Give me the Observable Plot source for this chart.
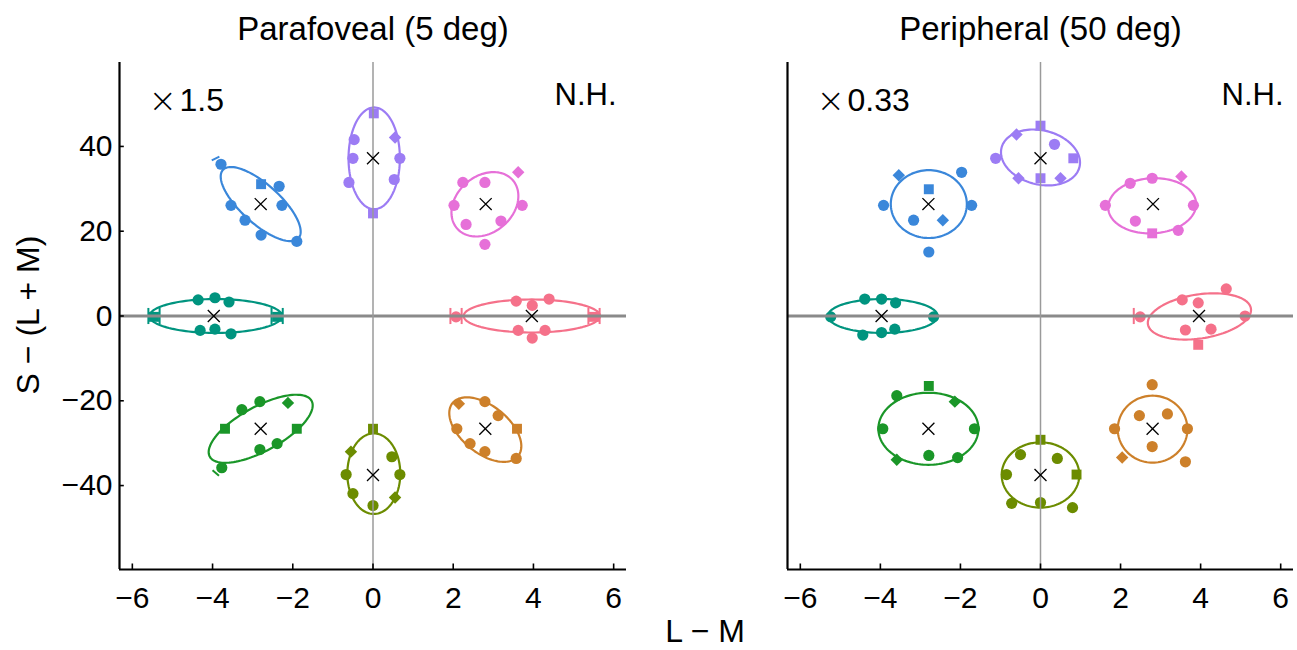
<!DOCTYPE html>
<html><head><meta charset="utf-8">
<script src="https://cdn.jsdelivr.net/npm/d3@7"></script>
<script src="https://cdn.jsdelivr.net/npm/@observablehq/plot@0.6"></script>
<style>
body{margin:0;background:#fff;}
#wrap{position:relative;width:1297px;height:650px;font-family:"Liberation Sans",Arial,Helvetica,sans-serif;background:#fff;overflow:hidden;}
#wrap svg{position:absolute;top:0;}
.lab{position:absolute;font-size:32px;color:#000;white-space:nowrap;line-height:1;}
</style></head><body><div id="wrap"></div>
<script>
// ---- data ----
const groups = ["h0","h45","h90","h135","h180","h225","h270","h315"];
const colors = ["#F5718A","#E670D8","#9C7CF4","#3A87DA","#00947F","#1A9628","#6C8C00","#CD802A"];
const xTicks = [-6,-4,-2,0,2,4,6];
const yTicks = [-40,-20,0,20,40];
const xDomain = [-6.32, 6.32];
const yDomain = [-59.8, 59.8];

// stimulus centres (× marks)
const centerX = [3.96, 2.81, 0, -2.8, -3.97, -2.8, 0, 2.8];
const centerY = [0, 26.4, 37.2, 26.4, 0, -26.6, -37.5, -26.6];

// fitted ellipses: [group, cx, cy, semi-axis a, semi-axis b (in L-M units, S axis /10), angle deg]
const paraEllipses = [
  ["h0", 3.96, 0, 1.7, 0.39, 0],
  ["h45", 2.79, 26.35, 0.9, 0.68, 35],
  ["h90", 0.03, 37.2, 1.2, 0.64, 90],
  ["h135", -2.8, 26.4, 1.24, 0.47, -40],
  ["h180", -3.92, 0, 1.65, 0.4, 0],
  ["h225", -2.8, -26.6, 1.43, 0.53, 27],
  ["h270", 0.02, -37.2, 0.95, 0.66, 90],
  ["h315", 2.8, -26.8, 1.03, 0.57, -36]
];
const periEllipses = [
  ["h0", 3.97, -0.1, 1.3, 0.52, 8],
  ["h45", 2.79, 26.0, 1.1, 0.65, 3],
  ["h90", 0, 37.4, 1.0, 0.64, -12],
  ["h135", -2.79, 26.4, 0.95, 0.8, 0],
  ["h180", -3.94, 0, 1.37, 0.4, 0],
  ["h225", -2.8, -26.6, 1.25, 0.85, 0],
  ["h270", 0, -37.5, 0.97, 0.77, 0],
  ["h315", 2.8, -26.7, 0.87, 0.79, 0]
];

// measured settings: [group, L-M, S-(L+M), marker]  c=circle s=square d=diamond
const paraPoints = [
  ["h0",2.07,-0.2,"c"],["h0",3.57,3.5,"c"],["h0",3.97,2.5,"c"],["h0",4.39,4.0,"c"],["h0",5.51,-0.2,"s"],["h0",3.62,-3.4,"c"],["h0",4.29,-3.4,"c"],["h0",3.97,-5.2,"c"],
  ["h45",2.24,31.5,"c"],["h45",2.79,31.5,"c"],["h45",3.62,33.9,"d"],["h45",2.02,26.1,"c"],["h45",3.72,26.1,"c"],["h45",2.32,21.6,"c"],["h45",3.19,22.4,"c"],["h45",2.79,16.9,"c"],
  ["h90",0.02,47.8,"s"],["h90",-0.47,41.6,"c"],["h90",-0.5,37.2,"c"],["h90",-0.6,31.5,"c"],["h90",0,24.2,"s"],["h90",0.55,42.1,"d"],["h90",0.67,37.2,"c"],["h90",0.53,32.2,"c"],
  ["h135",-3.79,35.8,"c"],["h135",-2.79,31.1,"s"],["h135",-2.34,30.6,"c"],["h135",-3.54,26.1,"c"],["h135",-2.27,26.1,"c"],["h135",-3.19,22.6,"c"],["h135",-2.79,19.1,"c"],["h135",-1.9,17.6,"c"],
  ["h180",-5.46,-0.2,"s"],["h180",-4.36,3.8,"c"],["h180",-3.94,4.3,"c"],["h180",-3.59,3.3,"c"],["h180",-2.39,-0.2,"s"],["h180",-4.31,-3.4,"c"],["h180",-3.94,-3.1,"c"],["h180",-3.54,-4.2,"c"],
  ["h225",-3.77,-35.8,"c"],["h225",-3.69,-26.6,"s"],["h225",-3.27,-22.1,"c"],["h225",-2.82,-20.2,"c"],["h225",-2.12,-20.5,"d"],["h225",-1.9,-26.6,"s"],["h225",-2.39,-30.1,"c"],["h225",-2.82,-31.5,"c"],
  ["h270",0,-26.6,"s"],["h270",-0.55,-32.0,"d"],["h270",0.47,-33.2,"c"],["h270",-0.67,-37.4,"c"],["h270",0.67,-37.4,"c"],["h270",-0.5,-41.9,"c"],["h270",0.55,-42.8,"d"],["h270",0,-44.7,"c"],
  ["h315",2.14,-20.7,"d"],["h315",2.79,-20.2,"c"],["h315",3.12,-23.5,"c"],["h315",2.09,-26.6,"c"],["h315",3.59,-26.6,"s"],["h315",2.42,-30.1,"c"],["h315",2.79,-32.0,"c"],["h315",3.57,-33.6,"c"]
];
const periPoints = [
  ["h0",2.49,-0.2,"c"],["h0",3.54,3.8,"c"],["h0",3.94,3.1,"c"],["h0",4.64,6.4,"c"],["h0",5.11,0,"c"],["h0",3.62,-3.3,"c"],["h0",4.26,-3.1,"c"],["h0",3.94,-6.8,"s"],
  ["h45",2.24,31.3,"c"],["h45",2.79,32.5,"c"],["h45",3.52,32.9,"d"],["h45",1.62,26.1,"c"],["h45",3.82,26.1,"c"],["h45",2.37,22.4,"c"],["h45",2.79,19.5,"s"],["h45",3.44,20.2,"c"],
  ["h90",-1.12,37.2,"c"],["h90",-0.6,42.8,"d"],["h90",-0.55,32.5,"d"],["h90",0,44.9,"s"],["h90",0.35,40.5,"c"],["h90",0.82,37.2,"s"],["h90",0,32.5,"s"],["h90",0.5,32.5,"d"],
  ["h135",-3.54,33.2,"d"],["h135",-2.79,29.9,"s"],["h135",-1.97,33.9,"c"],["h135",-3.92,26.1,"c"],["h135",-1.72,26.1,"c"],["h135",-3.17,22.6,"c"],["h135",-2.44,22.6,"d"],["h135",-2.79,15.1,"c"],
  ["h180",-5.24,-0.2,"c"],["h180",-4.39,4.0,"c"],["h180",-3.97,4.0,"c"],["h180",-3.62,3.1,"c"],["h180",-2.67,-0.2,"c"],["h180",-4.44,-4.5,"c"],["h180",-3.97,-3.9,"c"],["h180",-3.64,-3.1,"c"],
  ["h225",-2.79,-16.5,"s"],["h225",-3.59,-18.8,"c"],["h225",-2.14,-20.2,"d"],["h225",-3.94,-26.6,"c"],["h225",-1.65,-26.6,"c"],["h225",-3.59,-33.9,"d"],["h225",-2.79,-32.9,"c"],["h225",-2.07,-33.4,"c"],
  ["h270",0,-29.2,"s"],["h270",-0.5,-32.7,"c"],["h270",0.42,-33.6,"c"],["h270",-0.85,-37.4,"c"],["h270",0.9,-37.4,"s"],["h270",-0.72,-44.2,"c"],["h270",0,-44.0,"c"],["h270",0.8,-45.2,"c"],
  ["h315",2.79,-16.2,"c"],["h315",2.47,-23.5,"c"],["h315",3.17,-23.1,"c"],["h315",1.85,-26.6,"c"],["h315",3.67,-26.6,"c"],["h315",2.79,-30.8,"c"],["h315",2.04,-33.4,"d"],["h315",3.62,-34.4,"c"]
];

// error-bar caps: [group, x1, y1, x2, y2]
const paraCaps = [
  ["h180",-5.60,-1.9,-5.60,1.9],["h180",-5.32,-1.9,-5.32,1.9],["h180",-2.53,-1.9,-2.53,1.9],["h180",-2.25,-1.9,-2.25,1.9],
  ["h0",1.93,-1.9,1.93,1.9],["h0",2.21,-1.9,2.21,1.9],["h0",5.37,-1.9,5.37,1.9],["h0",5.65,-1.9,5.65,1.9],
  ["h135",-4.02,36.7,-3.83,37.6],["h225",-4.0,-36.4,-3.84,-37.7]
];
const periCaps = [
  ["h0",2.33,-1.9,2.33,1.9]
];

// ---- drawing ----
function ellipseRows(list) {
  const rows = [];
  for (const [g, cx, cy, a, b, ang] of list) {
    const phi = ang * Math.PI / 180;
    for (let i = 0; i <= 120; i++) {
      const t = 2 * Math.PI * i / 120;
      const u = a * Math.cos(t) * Math.cos(phi) - b * Math.sin(t) * Math.sin(phi);
      const v = a * Math.cos(t) * Math.sin(phi) + b * Math.sin(t) * Math.cos(phi);
      rows.push({g, x: cx + u, y: cy + 10 * v});
    }
  }
  return rows;
}

function panel({title, factor, ellipses, points, caps, showY, width, marginLeft, marginRight}) {
  const pts = points.map(([g, x, y, s]) => ({g, x, y, s}));
  const capRows = caps.map(([g, x1, y1, x2, y2]) => ({g, x1, y1, x2, y2}));
  const centers = centerX.map((x, i) => ({x, y: centerY[i]}));
  const marks = [
    Plot.line(ellipseRows(ellipses), {x: "x", y: "y", z: "g", stroke: "g", strokeWidth: 2.2, curve: "linear"}),
    Plot.link(capRows, {x1: "x1", y1: "y1", x2: "x2", y2: "y2", stroke: "g", strokeWidth: 2}),
    Plot.dot(pts, {x: "x", y: "y", fill: "g", symbol: "s", r: 5.6}),
    Plot.ruleY([0], {stroke: "#8a8a8a", strokeWidth: 3}),
    Plot.ruleX([0], {stroke: "#9a9a9a", strokeWidth: 1.5}),
    Plot.dot(centers, {x: "x", y: "y", symbol: "times", r: 5.5, stroke: "black", strokeWidth: 1.3}),
    Plot.ruleY([yDomain[0]], {stroke: "black", strokeWidth: 2.2}),
    Plot.ruleX([xDomain[0]], {stroke: "black", strokeWidth: 2.2}),
    Plot.ruleX(xTicks, {x: d => d, y1: yDomain[0], y2: yDomain[0] + 1.3, stroke: "black", strokeWidth: 1.6}),
    Plot.axisX({ticks: xTicks, tickSize: 0, tickPadding: 17, fontSize: 30, label: null}),
    Plot.text([title], {frameAnchor: "top", dy: -46, fontSize: 33}),
    Plot.text(["×"], {frameAnchor: "top-left", textAnchor: "start", dx: 29, dy: 25, fontSize: 34, fontFamily: "DejaVu Sans", fontWeight: 200}),
    Plot.text([factor], {frameAnchor: "top-left", textAnchor: "start", dx: 60, dy: 26, fontSize: 32}),
    Plot.text(["N.H."], {frameAnchor: "top-right", textAnchor: "end", dx: -10, dy: 20, fontSize: 31})
  ];
  if (showY) {
    marks.push(
      Plot.ruleY(yTicks, {y: d => d, x1: xDomain[0], x2: xDomain[0] + 0.12, stroke: "black", strokeWidth: 1.6}),
      Plot.axisY({ticks: yTicks, tickSize: 0, tickPadding: 7, fontSize: 30, label: null})
    );
  }
  return Plot.plot({
    width, height: 650, marginLeft, marginRight, marginTop: 62, marginBottom: 81,
    x: {domain: xDomain},
    y: {domain: yDomain, axis: showY ? undefined : null},
    color: {domain: groups, range: colors},
    symbol: {domain: ["c", "s", "d"], range: ["circle", "square", "diamond2"]},
    style: {fontFamily: '"Liberation Sans", Arial, Helvetica, sans-serif', background: "white", overflow: "visible", color: "black"},
    marks
  });
}

const wrap = document.getElementById("wrap");
const left = panel({title: "Parafoveal (5 deg)", factor: "1.5", ellipses: paraEllipses, points: paraPoints, caps: paraCaps, showY: true, width: 650, marginLeft: 119, marginRight: 24});
left.style.left = "0px";
const right = panel({title: "Peripheral (50 deg)", factor: "0.33", ellipses: periEllipses, points: periPoints, caps: periCaps, showY: false, width: 647, marginLeft: 137, marginRight: 4});
right.style.left = "650px";
wrap.appendChild(left);
wrap.appendChild(right);

const xl = document.createElement("div");
xl.className = "lab"; xl.textContent = "L − M";
xl.style.left = "705px"; xl.style.top = "631px"; xl.style.transform = "translate(-50%,-50%)";
wrap.appendChild(xl);
const yl = document.createElement("div");
yl.className = "lab"; yl.textContent = "S − (L + M)";
yl.style.left = "28px"; yl.style.top = "315px"; yl.style.transform = "translate(-50%,-50%) rotate(-90deg)";
wrap.appendChild(yl);
</script>
</body></html>
